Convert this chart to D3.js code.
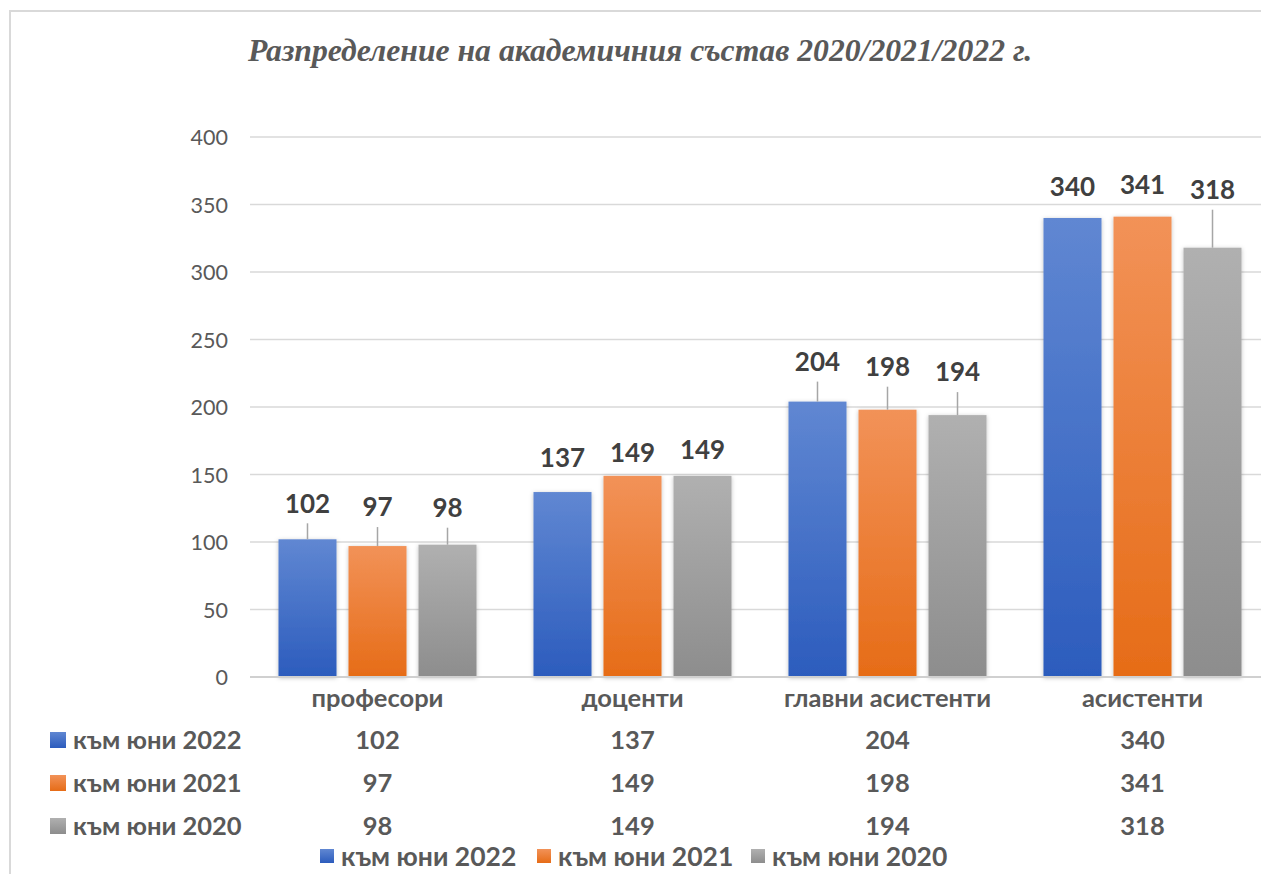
<!DOCTYPE html>
<html><head><meta charset="utf-8">
<script src="https://cdn.jsdelivr.net/npm/d3@7"></script>
<style>
html,body{margin:0;padding:0;background:#fff;}
svg{display:block;}
</style></head>
<body>
<svg id="chart" width="1261" height="874"></svg>
<script>
const title = "Разпределение на академичния състав 2020/2021/2022 г.";
const categories = ["професори", "доценти", "главни асистенти", "асистенти"];
const seriesNames = ["към юни 2022", "към юни 2021", "към юни 2020"];
const values2022 = [102, 137, 204, 340];
const values2021 = [97, 149, 198, 341];
const values2020 = [98, 149, 194, 318];
const yTicks = [0, 50, 100, 150, 200, 250, 300, 350, 400];

const seriesValues = [values2022, values2021, values2020];
// layout: label lift above bar top (px), per series x category
const labelLift = [[36, 34, 40, 31], [39, 23, 43, 32], [37, 26, 43, 58]];
const colorsTop = ["#6087d2", "#f29258", "#b0b0b0"];
const colorsBot = ["#2c5cbd", "#e66c17", "#8d8d8d"];

const svg = d3.select("#chart");
const font = "Lato, 'Open Sans', sans-serif";

const defs = svg.append("defs");
seriesNames.forEach((s, i) => {
  const g = defs.append("linearGradient").attr("id", "grad" + i)
    .attr("x1", 0).attr("y1", 0).attr("x2", 0).attr("y2", 1);
  g.append("stop").attr("offset", "0%").attr("stop-color", colorsTop[i]);
  g.append("stop").attr("offset", "100%").attr("stop-color", colorsBot[i]);
});
const f = defs.append("filter").attr("id", "shadow").attr("x", "-20%").attr("y", "-20%").attr("width", "140%").attr("height", "140%");
f.append("feDropShadow").attr("dx", 0).attr("dy", 1).attr("stdDeviation", 2).attr("flood-color", "#000").attr("flood-opacity", 0.25);

// frame
svg.append("rect").attr("x", 10).attr("y", 11).attr("width", 1300).attr("height", 900)
  .attr("fill", "none").attr("stroke", "#d9d9d9").attr("stroke-width", 2);

// title
svg.append("text").attr("x", 640).attr("y", 61).attr("text-anchor", "middle")
  .attr("font-family", "'Liberation Serif', 'Times New Roman', serif")
  .attr("font-style", "italic").attr("font-weight", "bold").attr("font-size", 31.7)
  .attr("fill", "#595959").text(title);

const y = d3.scaleLinear().domain([0, 400]).range([677, 137]);
const x0 = d3.scaleBand().domain(categories).range([250, 1270]).paddingInner(0).paddingOuter(0);
const x1 = d3.scaleBand().domain(seriesNames).range([0, x0.bandwidth()]).paddingInner(12 / 70).paddingOuter(0.407);

// gridlines
svg.append("g").selectAll("line").data(yTicks.filter(d => d > 0)).join("line")
  .attr("x1", 250).attr("x2", 1270).attr("y1", d => y(d)).attr("y2", d => y(d))
  .attr("stroke", "#d9d9d9").attr("stroke-width", 1.3);

// y axis labels
const yAxis = d3.axisLeft(y).tickValues(yTicks).tickSize(0).tickPadding(0);
const yg = svg.append("g").attr("transform", "translate(228,0)").call(yAxis);
yg.select(".domain").remove();
yg.selectAll("text").attr("font-family", font).attr("font-size", 21.5).attr("fill", "#595959").attr("dy", "0.35em");

// bars
const groups = svg.append("g").selectAll("g").data(categories).join("g")
  .attr("transform", d => `translate(${x0(d)},0)`);
seriesNames.forEach((s, si) => {
  groups.append("rect")
    .attr("x", x1(s)).attr("width", x1.bandwidth())
    .attr("y", (d, ci) => y(seriesValues[si][ci]))
    .attr("height", (d, ci) => y(0) - y(seriesValues[si][ci]))
    .attr("fill", `url(#grad${si})`).attr("filter", "url(#shadow)");
});

// baseline
svg.append("line").attr("x1", 250).attr("x2", 1270).attr("y1", y(0)).attr("y2", y(0))
  .attr("stroke", "#d0d0d0").attr("stroke-width", 2);

// data labels + leader lines
seriesNames.forEach((s, si) => {
  groups.each(function (d, ci) {
    const g = d3.select(this);
    const cx = x1(s) + x1.bandwidth() / 2;
    const top = y(seriesValues[si][ci]);
    const lift = labelLift[si][ci];
    const cy = top - lift;
    if (lift > 35) {
      g.append("line").attr("x1", cx).attr("x2", cx).attr("y1", cy + 20).attr("y2", top)
        .attr("stroke", "#a6a6a6").attr("stroke-width", 1.5);
    }
    g.append("text").attr("x", cx).attr("y", cy).attr("dy", "0.36em").attr("text-anchor", "middle")
      .attr("font-family", font).attr("font-weight", "bold").attr("font-size", 26)
      .attr("fill", "#404040").text(seriesValues[si][ci]);
  });
});

// category labels
const xAxis = d3.axisBottom(x0).tickSize(0).tickPadding(0);
const xg = svg.append("g").attr("transform", `translate(0,${y(0)})`).call(xAxis);
xg.select(".domain").remove();
xg.selectAll("text").attr("font-family", font).attr("font-weight", "bold").attr("font-size", 25.5)
  .attr("fill", "#595959").attr("y", 21).attr("dy", "0.36em");

// data table
const rowY = [740, 783, 826];
seriesNames.forEach((s, si) => {
  svg.append("rect").attr("x", 50).attr("y", rowY[si] - 8).attr("width", 16).attr("height", 16)
    .attr("fill", `url(#grad${si})`);
  svg.append("text").attr("x", 73).attr("y", rowY[si]).attr("dy", "0.36em")
    .attr("font-family", font).attr("font-weight", "bold").attr("font-size", 25.5)
    .attr("fill", "#595959").text(s);
  categories.forEach((c, ci) => {
    svg.append("text").attr("x", x0(c) + x0.bandwidth() / 2).attr("y", rowY[si]).attr("dy", "0.36em")
      .attr("text-anchor", "middle").attr("font-family", font).attr("font-weight", "bold").attr("font-size", 25.5)
      .attr("fill", "#595959").text(seriesValues[si][ci]);
  });
});

// bottom legend
const legX = [320, 537, 751];
seriesNames.forEach((s, si) => {
  svg.append("rect").attr("x", legX[si]).attr("y", 849).attr("width", 14).attr("height", 14)
    .attr("fill", `url(#grad${si})`);
  svg.append("text").attr("x", legX[si] + 21).attr("y", 856).attr("dy", "0.36em")
    .attr("font-family", font).attr("font-weight", "bold").attr("font-size", 26.5)
    .attr("fill", "#595959").text(s);
});
</script>
</body></html>
